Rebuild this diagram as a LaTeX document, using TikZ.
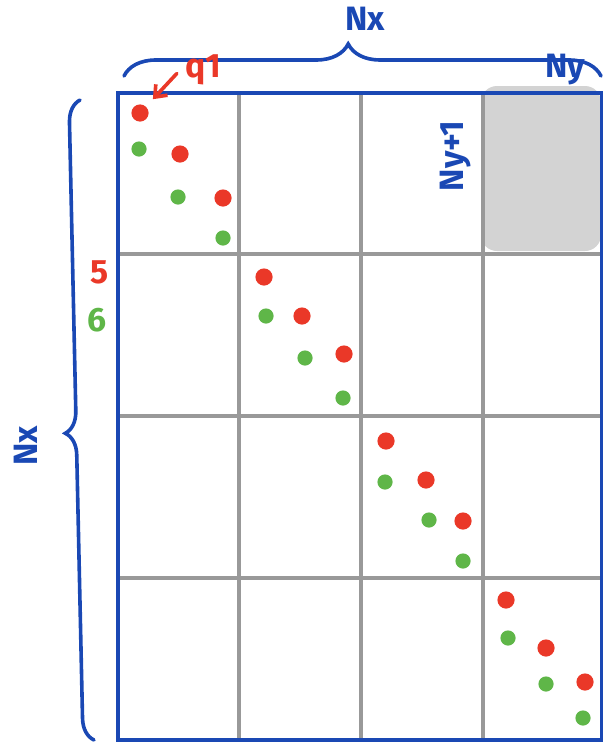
\documentclass[tikz,border=0pt]{standalone}
\usepackage{fontspec}
\setmainfont{Fira Sans}
\usetikzlibrary{arrows.meta,decorations.pathreplacing}
\definecolor{myblue}{RGB}{26,72,180}
\definecolor{myred}{RGB}{234,56,40}
\definecolor{mygreen}{RGB}{95,182,72}
\definecolor{mygray}{RGB}{153,153,153}
\definecolor{myshade}{RGB}{211,211,211}

\begin{document}
\begin{tikzpicture}[
  x=0.025cm, y=-0.025cm,
  every node/.style={font=\fontsize{24}{28}\selectfont\bfseries},
  bluelabel/.style={text=myblue},
  redlabel/.style={text=myred},
  greenlabel/.style={text=mygreen},
  reddot/.style={circle, fill=myred, inner sep=0pt, minimum size=0.43cm},
  greendot/.style={circle, fill=mygreen, inner sep=0pt, minimum size=0.38cm},
  gridline/.style={mygray, line width=0.1cm},
  matframe/.style={myblue, line width=0.1cm},
  bracket/.style={myblue, line width=0.09cm, line cap=round, decorate, decoration={brace, amplitude=#1}},
  edge/.style={-{Straight Barb[length=2.5mm, width=4mm]}, myred, line width=0.09cm, line cap=round}
]
\useasboundingbox (0,0) rectangle (603,743);

\fill[myshade, rounded corners=0.4cm] (481,86) rectangle (601,251);

\draw[gridline] (239,93) -- (239,740) (361,93) -- (361,740) (483,93) -- (483,740);
\draw[gridline] (118,254) -- (602,254) (118,416) -- (602,416) (118,578) -- (602,578);
\draw[matframe] (118,93) rectangle (602,740);

\node[reddot] (r1) at (140,113) {};
\node[greendot] (g1) at (139,149) {};
\node[reddot] (r2) at (180,154) {};
\node[greendot] (g2) at (178,197) {};
\node[reddot] (r3) at (223,198) {};
\node[greendot] (g3) at (223,238) {};
\node[reddot] (r4) at (264,277) {};
\node[greendot] (g4) at (266,316) {};
\node[reddot] (r5) at (302,316) {};
\node[greendot] (g5) at (305,358) {};
\node[reddot] (r6) at (344,354) {};
\node[greendot] (g6) at (343,398) {};
\node[reddot] (r7) at (386,441) {};
\node[greendot] (g7) at (385,482) {};
\node[reddot] (r8) at (426,480) {};
\node[greendot] (g8) at (429,520) {};
\node[reddot] (r9) at (463,521) {};
\node[greendot] (g9) at (463,561) {};
\node[reddot] (r10) at (506,600) {};
\node[greendot] (g10) at (508,638) {};
\node[reddot] (r11) at (546,648) {};
\node[greendot] (g11) at (546,684) {};
\node[reddot] (r12) at (585,682) {};
\node[greendot] (g12) at (583,718) {};

\coordinate (topl) at (124,76);
\coordinate (topr) at (601,76);
\coordinate (leftb) at (94,740);
\coordinate (leftt) at (80,100);
\draw[bracket=0.8cm, decoration={aspect=0.47}] (topl) -- (topr);
\draw[bracket=0.55cm, decoration={aspect=0.48}] (leftb) -- (leftt);

\node[bluelabel] (nxtop) at (365,19) {Nx};
\node[bluelabel] (ny) at (565,70) {Ny};
\node[bluelabel, rotate=90] (nyone) at (456,156) {Ny+1};
\node[bluelabel, rotate=90] (nxleft) at (26,446) {Nx};
\node[redlabel] (five) at (100,272) {5};
\node[greenlabel] (six) at (97,320) {6};
\node[redlabel] (qone) at (203,70) {q1};

\draw[edge, shorten <=0.12cm, shorten >=0.25cm] (qone.west) -- (r1);
\end{tikzpicture}
\end{document}
